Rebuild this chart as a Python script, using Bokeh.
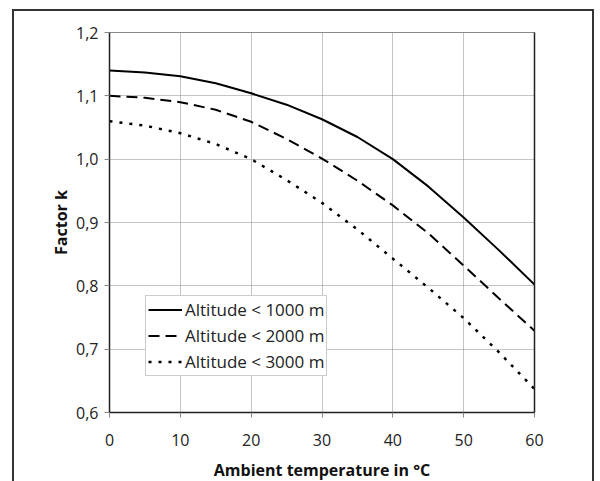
from bokeh.plotting import figure
from bokeh.models import (FixedTicker, CustomJSTickFormatter, Legend, LegendItem,
                          LinearAxis, Range1d)
from bokeh.embed import file_html
from bokeh.resources import INLINE

# ---- data ----
temp = [0, 5, 10, 15, 20, 25, 30, 35, 40, 45, 50, 55, 60]
k_1000 = [1.140, 1.137, 1.131, 1.120, 1.104, 1.086, 1.063, 1.035, 1.000, 0.957, 0.908, 0.856, 0.802]
k_2000 = [1.100, 1.097, 1.090, 1.078, 1.059, 1.032, 1.001, 0.966, 0.927, 0.883, 0.832, 0.780, 0.729]
k_3000 = [1.060, 1.053, 1.041, 1.024, 1.000, 0.967, 0.931, 0.889, 0.843, 0.797, 0.749, 0.695, 0.637]
series_labels = ["Altitude < 1000 m", "Altitude < 2000 m", "Altitude < 3000 m"]
x_ticks = [0, 10, 20, 30, 40, 50, 60]
y_ticks = [0.6, 0.7, 0.8, 0.9, 1.0, 1.1, 1.2]
x_title = "Ambient temperature in °C"
y_title = "Factor k"

FONT = "Open Sans"

p = figure(width=582, height=472, output_backend="svg", toolbar_location=None,
           x_range=Range1d(0, 60), y_range=Range1d(0.6, 1.2),
           min_border_left=95, min_border_right=62, min_border_top=21, min_border_bottom=67,
           background_fill_color="white", border_fill_color="white")
p.styles = {"border-top": "2px solid #333", "border-left": "2px solid #333",
            "border-right": "2px solid #333", "margin-left": "12px", "margin-top": "9px",
            "margin-bottom": "-24px"}

p.outline_line_color = "#888888"
p.outline_line_width = 1

for ax in (p.xaxis[0], p.yaxis[0]):
    ax.axis_line_color = "#222222"
    ax.axis_line_width = 1.5
    ax.major_tick_line_color = "#888888"
    ax.major_tick_in = 0
    ax.major_tick_out = 5
    ax.minor_tick_line_color = None
    ax.major_label_text_font = FONT
    ax.major_label_text_font_size = "16px"
    ax.major_label_text_color = "#222222"
    ax.axis_label_text_font = FONT
    ax.axis_label_text_font_size = "16px"
    ax.axis_label_text_font_style = "bold"
    ax.axis_label_text_color = "#111111"

p.xaxis.ticker = FixedTicker(ticks=x_ticks)
p.yaxis.ticker = FixedTicker(ticks=y_ticks)
p.yaxis.formatter = CustomJSTickFormatter(code="return tick.toFixed(1).replace('.', ',');")
p.xaxis.axis_label = x_title
p.yaxis.axis_label = y_title
p.xaxis.major_label_standoff = 16
p.yaxis.major_label_standoff = 6
p.xaxis.axis_label_standoff = 10
p.yaxis.axis_label_standoff = 1

right_ax = LinearAxis(major_tick_line_color=None, minor_tick_line_color=None,
                      major_label_text_font_size="0px", axis_line_color="#222222",
                      axis_line_width=1.5, ticker=FixedTicker(ticks=[]))
p.add_layout(right_ax, "right")

p.xgrid.ticker = FixedTicker(ticks=x_ticks)
p.ygrid.ticker = FixedTicker(ticks=y_ticks)
for g in (p.xgrid[0], p.ygrid[0]):
    g.grid_line_color = "#888888"
    g.grid_line_dash = "1 1"
    g.grid_line_width = 1

r1 = p.line(temp, k_1000, line_color="black", line_width=2)
r2 = p.line(temp, k_2000, line_color="black", line_width=2, line_dash="11 6")
r3 = p.line(temp, k_3000, line_color="black", line_width=2.5, line_dash="3 7")

legend = Legend(items=[LegendItem(label=series_labels[0], renderers=[r1]),
                       LegendItem(label=series_labels[1], renderers=[r2]),
                       LegendItem(label=series_labels[2], renderers=[r3])],
                location=(36, 36), orientation="vertical",
                label_text_font=FONT, label_text_font_size="17px", label_text_color="#222222",
                glyph_width=34, glyph_height=23, label_height=23, label_standoff=3,
                padding=2, spacing=3, margin=0,
                border_line_color="#999999", border_line_width=1,
                background_fill_color="white", background_fill_alpha=1)
p.add_layout(legend, "center")

open("out.html", "w").write(file_html(p, INLINE))
